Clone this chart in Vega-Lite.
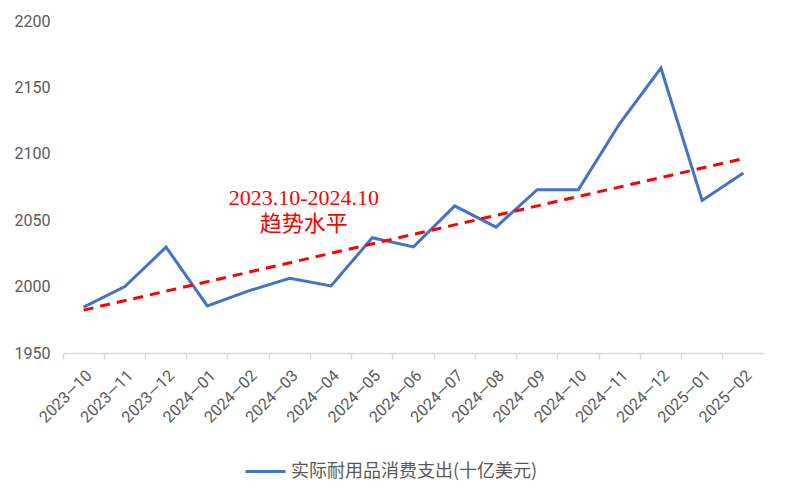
{
  "$schema": "https://vega.github.io/schema/vega-lite/v6.json",
  "width": 701,
  "height": 332,
  "autosize": "none",
  "padding": {"left": 63, "top": 21, "right": 22, "bottom": 141},
  "background": "white",
  "config": {"view": {"stroke": null}, "font": "Roboto"},
  "datasets": {
    "main": [
      {"month": "2023-10", "value": 1984.5, "series": "实际耐用品消费支出(十亿美元)"},
      {"month": "2023-11", "value": 2000.0, "series": "实际耐用品消费支出(十亿美元)"},
      {"month": "2023-12", "value": 2029.7, "series": "实际耐用品消费支出(十亿美元)"},
      {"month": "2024-01", "value": 1985.5, "series": "实际耐用品消费支出(十亿美元)"},
      {"month": "2024-02", "value": 1996.8, "series": "实际耐用品消费支出(十亿美元)"},
      {"month": "2024-03", "value": 2006.2, "series": "实际耐用品消费支出(十亿美元)"},
      {"month": "2024-04", "value": 2000.5, "series": "实际耐用品消费支出(十亿美元)"},
      {"month": "2024-05", "value": 2036.8, "series": "实际耐用品消费支出(十亿美元)"},
      {"month": "2024-06", "value": 2029.9, "series": "实际耐用品消费支出(十亿美元)"},
      {"month": "2024-07", "value": 2060.8, "series": "实际耐用品消费支出(十亿美元)"},
      {"month": "2024-08", "value": 2044.8, "series": "实际耐用品消费支出(十亿美元)"},
      {"month": "2024-09", "value": 2073.0, "series": "实际耐用品消费支出(十亿美元)"},
      {"month": "2024-10", "value": 2073.0, "series": "实际耐用品消费支出(十亿美元)"},
      {"month": "2024-11", "value": 2122.8, "series": "实际耐用品消费支出(十亿美元)"},
      {"month": "2024-12", "value": 2164.6, "series": "实际耐用品消费支出(十亿美元)"},
      {"month": "2025-01", "value": 2064.9, "series": "实际耐用品消费支出(十亿美元)"},
      {"month": "2025-02", "value": 2085.5, "series": "实际耐用品消费支出(十亿美元)"}
    ],
    "trend": [
      {"month": "2023-10", "value": 1982.3},
      {"month": "2025-02", "value": 2096.4}
    ],
    "note": [
      {"month": "2024-03", "value": 2067, "label": ["2023.10-2024.10", "趋势水平"]}
    ]
  },
  "encoding": {
    "x": {
      "field": "month",
      "type": "ordinal",
      "bandPosition": 0.5,
      "scale": {"type": "band", "paddingInner": 0, "paddingOuter": 0},
      "sort": null,
      "axis": null
    },
    "y": {
      "field": "value",
      "type": "quantitative",
      "scale": {"domain": [1950, 2200], "nice": false, "zero": false},
      "axis": {
        "title": null,
        "values": [1950, 2000, 2050, 2100, 2150, 2200],
        "format": "d",
        "grid": false,
        "domain": false,
        "ticks": false,
        "labelPadding": 13,
        "labelFont": "Roboto",
        "labelFontSize": 16,
        "labelColor": "#595959"
      }
    }
  },
  "layer": [
    {
      "data": {"name": "main"},
      "mark": {"type": "rule", "opacity": 0},
      "encoding": {
        "x": {
          "field": "month",
          "type": "ordinal",
          "sort": null,
          "bandPosition": 0,
          "axis": {
            "title": null,
            "orient": "bottom",
            "bandPosition": 0,
            "labels": false,
            "domainColor": "#d9d9d9",
            "domainWidth": 1.5,
            "tickColor": "#d9d9d9",
            "tickWidth": 1.5,
            "tickSize": 6,
            "grid": false
          }
        }
      }
    },
    {
      "data": {"name": "main"},
      "mark": {"type": "line", "strokeWidth": 3},
      "encoding": {
        "x": {
          "field": "month",
          "type": "ordinal",
          "sort": null,
          "bandPosition": 0.5,
          "axis": {
            "title": null,
            "orient": "bottom",
            "domain": false,
            "ticks": false,
            "grid": false,
            "labelAngle": -45,
            "labelPadding": 14,
            "labelFont": "Roboto",
            "labelFontSize": 16,
            "labelColor": "#595959",
            "labelExpr": "replace(datum.label, '-', '—')"
          }
        },
        "color": {
          "field": "series",
          "type": "nominal",
          "scale": {"range": ["#4472C4"]},
          "legend": {
            "title": null,
            "orient": "none",
            "legendX": 181,
            "legendY": 429,
            "symbolType": "stroke",
            "symbolSize": 1600,
            "symbolStrokeWidth": 3,
            "labelFont": "Noto Sans CJK SC",
            "labelFontSize": 18,
            "labelLimit": 0,
            "labelColor": "#595959",
            "labelOffset": 4
          }
        }
      }
    },
    {
      "data": {"name": "trend"},
      "mark": {"type": "line", "color": "#FF0000", "strokeWidth": 3, "strokeDash": [10, 7]},
      "encoding": {}
    },
    {
      "data": {"name": "note"},
      "mark": {
        "type": "text",
        "color": "#FF0000",
        "font": "Liberation Serif, Noto Sans CJK SC",
        "fontSize": 22,
        "lineHeight": 26,
        "align": "center",
        "baseline": "middle",
        "dx": 14
      },
      "encoding": {"text": {"field": "label"}}
    }
  ],
  "resolve": {"axis": {"x": "independent"}}
}
